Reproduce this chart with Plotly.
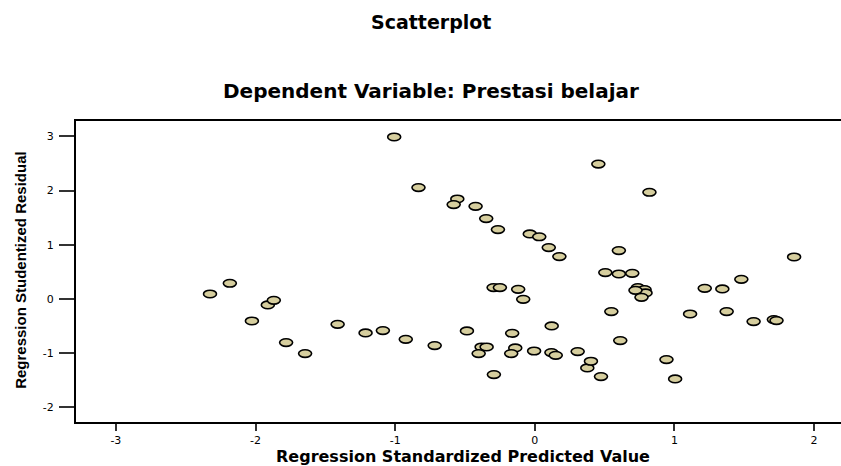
import plotly.graph_objects as go

# Regression Standardized Predicted Value (x) and Studentized Residual (y)
pred = [-2.326, -2.184, -2.026, -1.912, -1.869, -1.781, -1.645, -1.412, -1.212, -1.088,
        -1.007, -0.924, -0.833, -0.717, -0.555, -0.581, -0.486, -0.424, -0.381, -0.345,
        -0.402, -0.348, -0.295, -0.250, -0.293, -0.264, -0.162, -0.140, -0.169, -0.119,
        -0.083, -0.036, -0.005, 0.032, 0.100, 0.121, 0.119, 0.150, 0.176, 0.307,
        0.376, 0.402, 0.455, 0.474, 0.505, 0.548, 0.602, 0.602, 0.612, 0.698,
        0.738, 0.786, 0.793, 0.721, 0.764, 0.821, 0.943, 1.005, 1.112, 1.217,
        1.343, 1.374, 1.479, 1.567, 1.712, 1.731, 1.857]
resid = [0.092, 0.290, -0.406, -0.110, -0.024, -0.805, -1.008, -0.467, -0.627, -0.583,
         2.989, -0.744, 2.055, -0.860, 1.845, 1.742, -0.590, 1.710, -0.886, -0.886,
         -1.008, 1.483, 0.210, 0.210, -1.395, 1.280, -0.633, -0.904, -1.008, 0.179,
         -0.006, 1.200, -0.960, 1.148, 0.948, -0.498, -0.989, -1.039, 0.782, -0.971,
         -1.273, -1.149, 2.490, -1.432, 0.487, -0.233, 0.893, 0.461, -0.768, 0.474,
         0.210, 0.173, 0.111, 0.160, 0.031, 1.969, -1.118, -1.476, -0.277, 0.197,
         0.185, -0.233, 0.363, -0.417, -0.380, -0.399, 0.775]

x_ticks = [-3, -2, -1, 0, 1, 2]
y_ticks = [-2, -1, 0, 1, 2, 3]

title_text = "Scatterplot"
subtitle_text = "Dependent Variable: Prestasi belajar"
x_title = "Regression Standardized Predicted Value"
y_title = "Regression Studentized Residual"

FILL = "#D6CE9E"
BOLD = "DejaVu Sans"

fig = go.Figure()
fig.add_trace(go.Scatter(
    x=pred, y=resid, mode="markers",
    marker=dict(size=11, color="rgba(0,0,0,0)", line=dict(width=0)),
    hovertemplate="%{x:.2f}, %{y:.2f}<extra></extra>", showlegend=False,
))

# elliptical markers anchored at data coordinates
shapes = []
for xv, yv in zip(pred, resid):
    shapes.append(dict(
        type="circle", xref="x", yref="y",
        xsizemode="pixel", ysizemode="pixel",
        xanchor=xv, yanchor=yv,
        x0=-6.5, x1=6.5, y0=-3.8, y1=3.8,
        fillcolor=FILL, line=dict(color="black", width=1.6), layer="above",
    ))

fig.update_layout(
    width=848, height=466,
    margin=dict(l=76, r=0, t=121, b=44),
    paper_bgcolor="white", plot_bgcolor="white",
    shapes=shapes,
    showlegend=False,
    xaxis=dict(
        range=[-3.2857, 2.2286], tickvals=x_ticks, ticktext=[str(v) for v in x_ticks],
        showgrid=False, zeroline=False,
        showline=True, linecolor="black", linewidth=2, mirror=True,
        ticks="outside", ticklen=7, tickwidth=1.5, tickcolor="#333333",
        tickfont=dict(family="DejaVu Sans", size=11, color="black"),
    ),
    yaxis=dict(
        range=[-2.27, 3.284], tickvals=y_ticks, ticktext=[str(v) for v in y_ticks],
        showgrid=False, zeroline=False,
        showline=True, linecolor="black", linewidth=2, mirror=True,
        ticks="outside", ticklen=15, tickwidth=1.5, tickcolor="#333333",
        ticklabelstandoff=3,
        tickfont=dict(family="DejaVu Sans", size=11, color="black"),
    ),
    annotations=[
        dict(text="<b>" + title_text + "</b>", xref="paper", yref="paper",
             x=0.4611, y=1.328, xanchor="center", yanchor="middle", showarrow=False,
             font=dict(family=BOLD, size=19, color="black")),
        dict(text="<b>" + subtitle_text + "</b>", xref="paper", yref="paper",
             x=0.4611, y=1.099, xanchor="center", yanchor="middle", showarrow=False,
             font=dict(family=BOLD, size=20, color="black")),
        dict(text="<b>" + x_title + "</b>", xref="paper", yref="paper",
             x=0.502, y=-0.1146, xanchor="center", yanchor="middle", showarrow=False,
             font=dict(family=BOLD, size=16, color="black")),
        dict(text="<b>" + y_title + "</b>", xref="paper", yref="paper",
             x=-0.0712, y=0.506, xanchor="center", yanchor="middle", showarrow=False,
             textangle=-90,
             font=dict(family="Liberation Sans", size=15, color="black")),
    ],
)

fig.write_html(
    "out.html",
    config={"displayModeBar": False},
    post_script="document.body.style.margin='0';document.body.style.overflow='hidden';",
)
